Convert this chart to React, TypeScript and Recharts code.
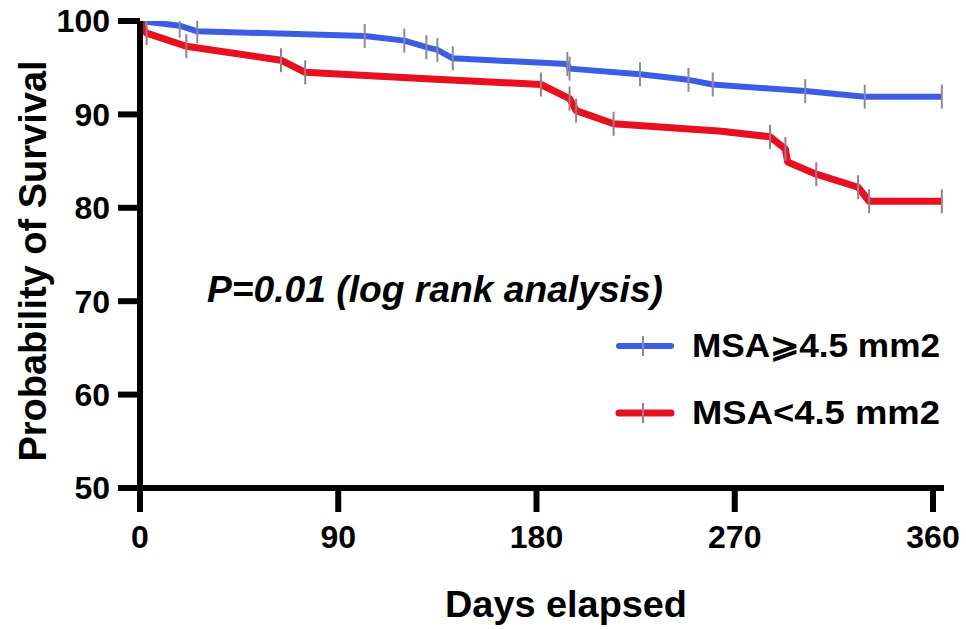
import React from "react";
import { LineChart, Line, XAxis, YAxis } from "recharts";

// survival curves (days, % surviving)
const blueDays = [0, 18, 26, 102, 120, 130, 135, 142, 194, 195, 227, 249, 260, 302, 329, 364];
const blueSurvival = [100, 99.5, 98.9, 98.4, 97.9, 97.2, 96.9, 96.0, 95.4, 94.9, 94.3, 93.7, 93.2, 92.5, 91.9, 91.9];
const blueCensored = [18, 26, 102, 120, 130, 135, 142, 194, 195, 227, 249, 260, 302, 329, 364];

const redDays = [0, 2, 3, 21, 64, 75, 132, 182, 195, 198, 215, 264, 286, 293, 294, 307, 326, 331, 364];
const redSurvival = [100, 98.9, 98.7, 97.3, 95.8, 94.5, 93.8, 93.2, 91.7, 90.4, 89.0, 88.2, 87.6, 86.3, 84.9, 83.6, 82.2, 80.7, 80.7];
const redCensored = [3, 21, 64, 75, 182, 195, 198, 215, 286, 293, 307, 326, 331, 364];

const xTicks = [0, 90, 180, 270, 360];
const yTicks = [50, 60, 70, 80, 90, 100];

const seriesNames = ["MSA\u2A7E4.5 mm2", "MSA<4.5 mm2"];
const BLUE = "#3b5ce4";
const RED = "#e8101f";
const FONT = "'Liberation Sans', Arial, Helvetica, sans-serif";

const toPoints = (days: number[], vals: number[], cens: number[]) =>
  days.map((d, i) => ({ d, s: vals[i], c: cens.includes(d) }));

const bluePoints = toPoints(blueDays, blueSurvival, blueCensored);
const redPoints = toPoints(redDays, redSurvival, redCensored);

const censorDot = (color: string) => (props: any) => {
  const { cx, cy, payload, index } = props;
  if (!payload || !payload.c) return <g key={`n-${index}`} />;
  return (
    <line
      key={`c-${index}`}
      x1={cx}
      x2={cx}
      y1={cy - 12}
      y2={cy + 12}
      stroke={color}
      strokeWidth={2}
    />
  );
};

export default function App() {
  const tickStyle = { fontSize: 32, fontWeight: 700, fill: "#000", fontFamily: FONT };
  return (
    <div style={{ position: "absolute", left: 0, top: 0, background: "#fff" }}>
      <LineChart
        width={966}
        height={629}
        margin={{ top: 21, right: 22, bottom: 81, left: 0 }}
        style={{ fontFamily: FONT }}
      >
        <XAxis
          type="number"
          dataKey="d"
          domain={[0, 365]}
          ticks={xTicks}
          allowDataOverflow
          height={60}
          axisLine={{ stroke: "#000", strokeWidth: 6 }}
          tickLine={{ stroke: "#000", strokeWidth: 6 }}
          tickSize={24}
          tickMargin={13}
          tick={tickStyle}
        />
        <YAxis
          type="number"
          domain={[50, 100]}
          ticks={yTicks}
          allowDataOverflow
          width={140}
          axisLine={{ stroke: "#000", strokeWidth: 6 }}
          tickLine={{ stroke: "#000", strokeWidth: 6 }}
          tickSize={22}
          tickMargin={8}
          tick={tickStyle}
        />
        <Line
          data={bluePoints}
          dataKey="s"
          type="linear"
          stroke={BLUE}
          strokeWidth={6}
          strokeLinejoin="round"
          dot={censorDot("#8a8a9c")}
          activeDot={false}
          isAnimationActive={false}
        />
        <Line
          data={redPoints}
          dataKey="s"
          type="linear"
          stroke={RED}
          strokeWidth={7}
          strokeLinejoin="round"
          dot={censorDot("#a07a88")}
          activeDot={false}
          isAnimationActive={false}
        />
        <text
          x={33}
          y={261}
          transform="rotate(-90 33 261)"
          textAnchor="middle"
          dominantBaseline="central"
          fontSize={38}
          fontWeight={700}
          fontFamily={FONT}
          fill="#000"
        >
          Probability of Survival
        </text>
        <text
          x={566}
          y={617}
          textAnchor="middle"
          fontSize={36}
          fontWeight={700}
          fontFamily={FONT}
          textLength={242}
          lengthAdjust="spacingAndGlyphs"
          fill="#000"
        >
          Days elapsed
        </text>
        <text
          x={207}
          y={302}
          fontSize={36}
          fontWeight={700}
          fontStyle="italic"
          fontFamily={FONT}
          textLength={456}
          lengthAdjust="spacingAndGlyphs"
          fill="#000"
        >
          P=0.01 (log rank analysis)
        </text>
        {seriesNames.map((name, i) => {
          const y = 346 + i * 67;
          const color = i === 0 ? BLUE : RED;
          return (
            <g key={name}>
              <line x1={619} x2={671} y1={y} y2={y} stroke={color} strokeWidth={i === 0 ? 6 : 7} strokeLinecap="round" />
              <line x1={643} x2={643} y1={y - 10} y2={y + 10} stroke={i === 0 ? "#8a8a9c" : "#a07a88"} strokeWidth={2} />
              <text
                x={692}
                y={y + 11}
                fontSize={34}
                fontWeight={700}
                fontFamily={FONT}
                textLength={248}
                lengthAdjust="spacingAndGlyphs"
                fill="#000"
              >
                {name}
              </text>
            </g>
          );
        })}
      </LineChart>
    </div>
  );
}
